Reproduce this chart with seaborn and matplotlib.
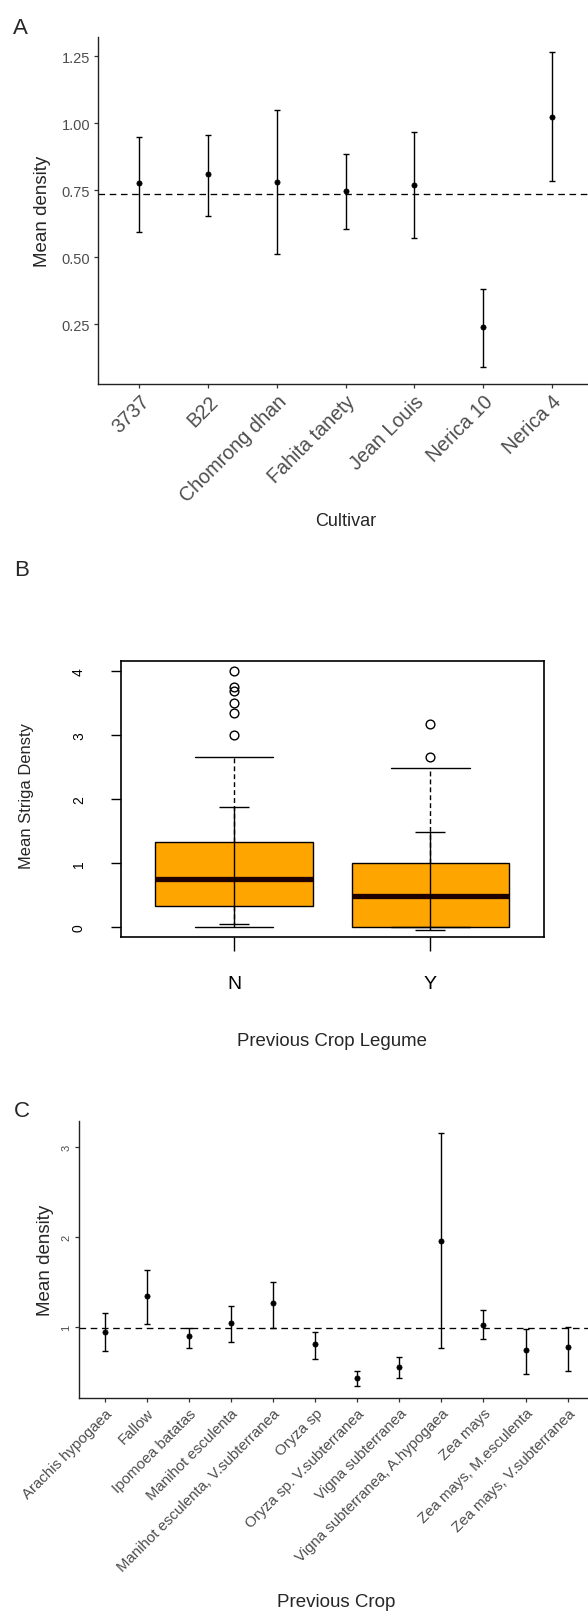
import numpy as np
import pandas as pd
import matplotlib
matplotlib.use("Agg")
import matplotlib.pyplot as plt
import seaborn as sns

# ---------------- data ----------------
# Panel A
cultivars = ["3737", "B22", "Chomrong dhan", "Fahita tanety", "Jean Louis", "Nerica 10", "Nerica 4"]
cult_mean = [0.776, 0.810, 0.780, 0.748, 0.770, 0.238, 1.021]
cult_low = [0.594, 0.654, 0.510, 0.604, 0.572, 0.089, 0.785]
cult_high = [0.949, 0.955, 1.050, 0.885, 0.965, 0.380, 1.264]
cult_ref = 0.735
cult_yticks = [0.25, 0.50, 0.75, 1.00, 1.25]

# Panel B
legume_groups = ["N", "Y"]
box_q1 = [0.33, 0.0]
box_med = [0.746, 0.485]
box_q3 = [1.33, 1.0]
whisk_lo = [0.0, 0.0]
whisk_hi = [2.66, 2.49]
outliers_N = [3.0, 3.34, 3.51, 3.69, 3.76, 4.0]
outliers_Y = [2.66, 3.17]
inner_lo = [0.04, -0.047]
inner_hi = [1.88, 1.477]
legume_yticks = [0, 1, 2, 3, 4]

# Panel C
crops = ["Arachis hypogaea", "Fallow", "Ipomoea batatas", "Manihot esculenta",
         "Manihot esculenta, V.subterranea", "Oryza sp", "Oryza sp. V.subterranea",
         "Vigna subterranea", "Vigna subterranea, A.hypogaea", "Zea mays",
         "Zea mays, M.esculenta", "Zea mays, V.subterranea"]
crop_mean = [0.943, 1.349, 0.899, 1.047, 1.265, 0.810, 0.440, 0.562, 1.959, 1.028, 0.747, 0.780]
crop_low = [0.733, 1.035, 0.766, 0.836, 0.994, 0.647, 0.345, 0.433, 0.766, 0.866, 0.481, 0.518]
crop_high = [1.154, 1.637, 0.994, 1.235, 1.504, 0.950, 0.514, 0.666, 3.153, 1.187, 0.980, 0.999]
crop_ref = 0.988
crop_yticks = [1, 2, 3]

# ---------------- style ----------------
sns.set_theme(style="white")
plt.rcParams["font.family"] = ["Liberation Sans", "DejaVu Sans"]
GREY = "#4d4d4d"

W, H = 588, 1615
fig = plt.figure(figsize=(W / 100, H / 100), dpi=100)
fig.patch.set_facecolor("white")


def rect(l, t, r, b):
    return [l / W, 1 - b / H, (r - l) / W, (b - t) / H]


def ftxt(x, y, s, **kw):
    kw.setdefault("ha", "center")
    kw.setdefault("va", "center")
    fig.text(x / W, 1 - y / H, s, **kw)


def gg_axes(ax):
    for sp in ["top", "right"]:
        ax.spines[sp].set_visible(False)
    for sp in ["left", "bottom"]:
        ax.spines[sp].set_color("#222222")
        ax.spines[sp].set_linewidth(1.0)
    ax.set_facecolor("white")
    ax.grid(False)


def mean_ci_panel(ax, cats, mean, low, high, ref, yticks, ylim, capsize, xfs, yfs, yrot):
    pos = np.arange(len(cats))
    df = pd.DataFrame({"pos": pos, "mean": mean, "low": low, "high": high})
    ax.axhline(ref, color="black", lw=0.95, dashes=(5, 3.5), zorder=1)
    ax.errorbar(df["pos"], df["mean"],
                yerr=[df["mean"] - df["low"], df["high"] - df["mean"]],
                fmt="none", ecolor="black", elinewidth=1.0, capsize=capsize,
                capthick=1.0, zorder=2)
    sns.scatterplot(data=df, x="pos", y="mean", ax=ax, color="black",
                    s=14, edgecolor="black", linewidth=0.5, zorder=3, legend=False)
    ax.set_xlim(-0.6, len(cats) - 0.4)
    ax.set_ylim(*ylim)
    ax.set_xticks(pos)
    ax.set_xticklabels(cats, rotation=45, ha="right", va="top",
                       rotation_mode="anchor", fontsize=xfs, color=GREY)
    ax.set_yticks(yticks)
    if yrot:
        ax.set_yticklabels([f"{t:g}" for t in yticks], fontsize=yfs, color=GREY,
                           rotation=90, va="center")
    else:
        ax.set_yticklabels([f"{t:.2f}" for t in yticks], fontsize=yfs, color=GREY)
    ax.tick_params(axis="both", length=3.2, width=0.9, color="#333333",
                   bottom=True, left=True, pad=2.5)
    ax.set_xlabel("")
    ax.set_ylabel("")
    gg_axes(ax)


# ---------------- Panel A ----------------
axA = fig.add_axes(rect(98.2, 38.3, 593, 384.5))
mean_ci_panel(axA, cultivars, cult_mean, cult_low, cult_high, cult_ref,
              cult_yticks, (0.028, 1.32), 2.5, 14.2, 10.5, False)
ftxt(20.6, 28, "A", fontsize=16)
ftxt(42.4, 211.4, "Mean density", rotation=90, fontsize=13.5)
ftxt(345.8, 521.7, "Cultivar", fontsize=13)

# ---------------- Panel B ----------------
axB = fig.add_axes(rect(120.7, 661.7, 543.7, 938.3))
positions = [1, 2]
stats = []
fliers = [outliers_N, outliers_Y]
for i, g in enumerate(legume_groups):
    stats.append(dict(label=g, med=box_med[i], q1=box_q1[i], q3=box_q3[i],
                      whislo=whisk_lo[i], whishi=whisk_hi[i], fliers=fliers[i]))
axB.bxp(stats, positions=positions, widths=0.8, capwidths=0.4,
        patch_artist=True, showfliers=True,
        boxprops=dict(facecolor="#FFA500", edgecolor="black", linewidth=1.0),
        whiskerprops=dict(color="black", linewidth=1.0, linestyle=(0, (3.5, 2.2))),
        capprops=dict(color="black", linewidth=1.0),
        medianprops=dict(color="#1e0000", linewidth=3.8, solid_capstyle="butt"),
        flierprops=dict(marker="o", markerfacecolor="none", markeredgecolor="black",
                        markersize=6.3, markeredgewidth=1.0))
mids = [(a + b) / 2 for a, b in zip(inner_lo, inner_hi)]
halfs = [(b - a) / 2 for a, b in zip(inner_lo, inner_hi)]
axB.errorbar(positions, mids, yerr=halfs, fmt="none", ecolor="black",
             elinewidth=1.0, capsize=11, capthick=1.0, zorder=5)
axB.set_xlim(0.4235, 2.5765)
axB.set_ylim(-0.166, 4.166)
axB.set_xticks(positions)
axB.set_xticklabels(legume_groups, fontsize=14, color="black")
axB.set_yticks(legume_yticks)
axB.set_yticklabels([str(t) for t in legume_yticks], fontsize=10, color="black",
                    rotation=90, va="center")
axB.tick_params(axis="x", length=10, width=1.0, color="black", pad=17, bottom=True)
axB.tick_params(axis="y", length=7, width=1.0, color="black", pad=18, left=True)
for sp in axB.spines.values():
    sp.set_visible(True)
    sp.set_color("black")
    sp.set_linewidth(1.2)
axB.grid(False)
axB.set_facecolor("white")
axB.set_xlabel("")
axB.set_ylabel("")
ftxt(21.7, 570, "B", fontsize=16)
ftxt(26.7, 796, "Mean Striga Densty", rotation=90, fontsize=11.9)
ftxt(332, 1041.7, "Previous Crop Legume", fontsize=13.4)

# ---------------- Panel C ----------------
axC = fig.add_axes(rect(79.3, 1121.7, 592.9, 1399))
mean_ci_panel(axC, crops, crop_mean, crop_low, crop_high, crop_ref,
              crop_yticks, (0.215, 3.289), 2.0, 10.8, 8, True)
ftxt(21.7, 1112, "C", fontsize=16)
ftxt(45, 1260, "Mean density", rotation=90, fontsize=13.5)
ftxt(336, 1603, "Previous Crop", fontsize=13.5)

fig.savefig("out.png", dpi=100, facecolor="white")
